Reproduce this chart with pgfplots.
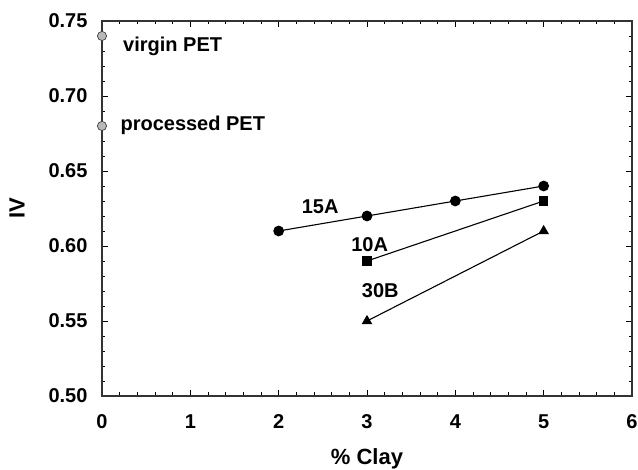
\documentclass[border=0pt]{standalone}
\usepackage{pgfplots}
\pgfplotsset{compat=1.18}
\usepackage{fontspec}
\setmainfont{Liberation Sans}
\newcommand\tf{\fontsize{20}{22}\selectfont\bfseries}
\newcommand\lf{\fontsize{22}{24}\selectfont\bfseries}
\begin{document}
\begin{tikzpicture}
\begin{axis}[
  scale only axis,
  width=530pt, height=375pt,
  xmin=0, xmax=6, ymin=0.5, ymax=0.75,
  xtick={0,1,2,3,4,5,6},
  xticklabels={{\tf 0},{\tf 1},{\tf 2},{\tf 3},{\tf 4},{\tf 5},{\tf 6}},
  ytick={0.5,0.55,0.6,0.65,0.7,0.75},
  yticklabels={{\tf 0.50},{\tf 0.55},{\tf 0.60},{\tf 0.65},{\tf 0.70},{\tf 0.75}},
  minor x tick num=4,
  minor y tick num=4,
  tick align=inside,
  major tick length=6pt,
  minor tick length=3.5pt,
  every tick/.style={black, line width=0.9pt},
  axis line style={line width=1.1pt, black!80},
  xticklabel style={yshift=-15pt},
  yticklabel style={xshift=-11pt},
  xlabel={\lf\% Clay},
  ylabel={\lf IV},
  xlabel style={at={(axis description cs:0.5,0)}, anchor=center, yshift=-63pt},
  ylabel style={at={(axis description cs:0,0.5)}, anchor=center, xshift=0pt, yshift=85pt},
  clip=false,
]
\addplot[black, line width=1.1pt, mark=*, mark size=4.8pt] coordinates {(2,0.61) (3,0.62) (4,0.63) (5,0.64)};
\addplot[black, line width=1.1pt, mark=square*, mark size=4.2pt] coordinates {(3,0.59) (5,0.63)};
\addplot[black, line width=1.1pt, mark=triangle*, mark size=5pt] coordinates {(3,0.55) (5,0.61)};
\addplot[only marks, mark=*, mark size=4.6pt, mark options={fill=black!28, draw=black!75, line width=0.7pt}] coordinates {(0,0.74) (0,0.68)};
\node[anchor=west, font=\tf] at (axis cs:0.2,0.733) {virgin PET};
\node[anchor=west, font=\tf] at (axis cs:0.17,0.6807) {processed PET};
\node[font=\tf] at (axis cs:2.47,0.626) {15A};
\node[font=\tf] at (axis cs:3.03,0.6007) {10A};
\node[font=\tf] at (axis cs:3.15,0.570) {30B};
\end{axis}
\pgfresetboundingbox
\path (current axis.south west) ++(-102pt,-74pt) rectangle ++(638pt,470pt);
\end{tikzpicture}
\end{document}
